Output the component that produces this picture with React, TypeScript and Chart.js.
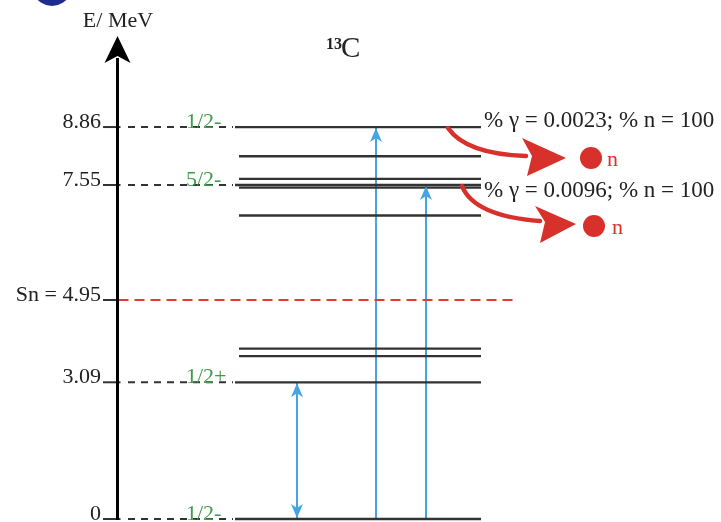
import React, { useEffect, useRef } from "react";
import { Chart, registerables } from "chart.js";

Chart.register(...registerables);

// ---- data ----
const levelEnergies = [0, 3.09, 3.68, 3.85, 6.86, 7.49, 7.55, 7.69, 8.2, 8.86];
const labeledEnergies = [0, 3.09, 7.55, 8.86];
const tickLabels = ["0", "3.09", "7.55", "8.86"];
const spinLabels = ["1/2-", "1/2+", "5/2-", "1/2-"];
const separationEnergy = 4.95;
const separationLabel = "Sn = 4.95";
const transitionFrom = [0, 0, 0];
const transitionTo = [3.09, 8.86, 7.55];
const transitionBoth = [true, false, false];
const decayLevels = [8.86, 7.55];
const decayTexts = ["% γ = 0.0023; % n = 100", "% γ = 0.0096; % n = 100"];
const axisTitle = "E/ MeV";
const nucleusMass = "13";
const nucleusSymbol = "C";
const neutronLabel = "n";

// ---- layout / style ----
const W = 721;
const H = 522;
const PX_PER_MEV = 44.24;
const ZERO_PX = 519;
const AXIS_X = 117.5;
const LEVEL_END = 481;
const LEVEL_START_LABELED = 235;
const LEVEL_START = 239;
const DASH_START = 128;
const TICK_START = 103;
const RED_DASH_END = 515;
const TRANS_X = [297, 376, 426];
const SERIF = '"Liberation Serif", "DejaVu Serif", serif';
const LEVEL_COLOR = "#333333";
const BLUE = "#45a4e4";
const RED = "#d8302b";
const GREEN = "#3f9b4a";
const DECAY_LAYOUT = [
  { sx: 448, p1: [18, 26], p2: [78, 28], tip: [118, 30], up: [74, 10], low: [79, 48], notch: [84, 28], circ: [143, 30], n: [159, 32] },
  { sx: 462, p1: [12, 30], p2: [78, 35], tip: [114, 38], up: [73, 20], low: [78, 57], notch: [83, 36], circ: [132, 40], n: [150, 42] },
];

function seg(x1: number, x2: number, y: number) {
  return [{ x: x1, y }, { x: x2, y }];
}

export default function App() {
  const ref = useRef<HTMLCanvasElement | null>(null);
  useEffect(() => {
    if (!ref.current) return;
    const datasets: any[] = [];
    // levels
    levelEnergies.forEach((e) => {
      const labeled = labeledEnergies.includes(e);
      datasets.push({
        data: seg(labeled ? LEVEL_START_LABELED : LEVEL_START, LEVEL_END, e),
        borderColor: LEVEL_COLOR,
        borderWidth: 2.3,
      });
    });
    // dashed connectors
    labeledEnergies.forEach((e) => {
      datasets.push({ data: seg(TICK_START, AXIS_X + 3, e), borderColor: "#333", borderWidth: 2 });
      datasets.push({
        data: seg(DASH_START, LEVEL_START_LABELED - 2, e),
        borderColor: "#333",
        borderWidth: 2,
        borderDash: [7, 6],
      });
    });
    // separation energy
    datasets.push({ data: seg(TICK_START, AXIS_X, separationEnergy), borderColor: "#333", borderWidth: 2 });
    datasets.push({
      data: seg(AXIS_X + 1, RED_DASH_END, separationEnergy),
      borderColor: "#e23b36",
      borderWidth: 2,
      borderDash: [10, 6],
    });
    // transitions
    transitionFrom.forEach((f, i) => {
      datasets.push({
        data: [{ x: TRANS_X[i], y: f }, { x: TRANS_X[i], y: transitionTo[i] }],
        borderColor: BLUE,
        borderWidth: 2,
      });
    });
    datasets.forEach((d) => {
      d.showLine = true;
      d.pointRadius = 0;
      d.fill = false;
    });

    const overlay = {
      id: "overlay",
      afterDatasetsDraw(chart: any) {
        const ctx = chart.ctx as CanvasRenderingContext2D;
        const ys = chart.scales.y;
        const Y = (e: number) => ys.getPixelForValue(e);
        ctx.save();
        // navy blob at top-left
        ctx.fillStyle = "#1e2c8e";
        ctx.beginPath();
        ctx.ellipse(52, -40, 29, 46, 0, 0, Math.PI * 2);
        ctx.fill();
        // vertical axis
        ctx.strokeStyle = "#000";
        ctx.lineWidth = 3;
        ctx.beginPath();
        ctx.moveTo(AXIS_X, Y(0) + 1);
        ctx.lineTo(AXIS_X, 58);
        ctx.stroke();
        ctx.fillStyle = "#000";
        ctx.beginPath();
        ctx.moveTo(AXIS_X, 36);
        ctx.lineTo(AXIS_X + 13, 63);
        ctx.lineTo(AXIS_X, 56);
        ctx.lineTo(AXIS_X - 13, 63);
        ctx.closePath();
        ctx.fill();
        // axis title
        ctx.fillStyle = "#222";
        ctx.font = `22px ${SERIF}`;
        ctx.textAlign = "center";
        ctx.textBaseline = "alphabetic";
        ctx.fillText(axisTitle, 118, 27);
        // nucleus title
        ctx.font = `bold 16px ${SERIF}`;
        ctx.textAlign = "right";
        ctx.fillText(nucleusMass, 342, 49);
        ctx.font = `29px ${SERIF}`;
        ctx.textAlign = "left";
        ctx.fillText(nucleusSymbol, 341, 57);
        // tick labels
        ctx.font = `22px ${SERIF}`;
        ctx.textAlign = "right";
        ctx.fillStyle = "#222";
        labeledEnergies.forEach((e, i) => ctx.fillText(tickLabels[i], 101, Y(e) + 1));
        ctx.fillText(separationLabel, 101, Y(separationEnergy) + 1);
        // spin labels
        ctx.fillStyle = GREEN;
        ctx.textAlign = "left";
        labeledEnergies.forEach((e, i) => ctx.fillText(spinLabels[i], 186, Y(e) + 1));
        // arrowheads of transitions
        ctx.fillStyle = BLUE;
        const head = (x: number, tipY: number, dir: number) => {
          ctx.beginPath();
          ctx.moveTo(x, tipY);
          ctx.lineTo(x + 6, tipY + dir * 14);
          ctx.lineTo(x, tipY + dir * 10);
          ctx.lineTo(x - 6, tipY + dir * 14);
          ctx.closePath();
          ctx.fill();
        };
        transitionFrom.forEach((f, i) => {
          head(TRANS_X[i], Y(transitionTo[i]) + 1, 1);
          if (transitionBoth[i]) head(TRANS_X[i], Y(f) - 1, -1);
        });
        // decays
        decayLevels.forEach((e, i) => {
          const L = DECAY_LAYOUT[i];
          const ly = Y(e) + 1;
          const sx = L.sx;
          ctx.strokeStyle = RED;
          ctx.fillStyle = RED;
          ctx.lineWidth = 4.5;
          ctx.lineCap = "round";
          ctx.beginPath();
          ctx.moveTo(sx, ly);
          ctx.quadraticCurveTo(sx + L.p1[0], ly + L.p1[1], sx + L.p2[0], ly + L.p2[1]);
          ctx.stroke();
          ctx.beginPath();
          ctx.moveTo(sx + L.tip[0], ly + L.tip[1]);
          ctx.lineTo(sx + L.up[0], ly + L.up[1]);
          ctx.lineTo(sx + L.notch[0], ly + L.notch[1]);
          ctx.lineTo(sx + L.low[0], ly + L.low[1]);
          ctx.closePath();
          ctx.fill();
          ctx.beginPath();
          ctx.arc(sx + L.circ[0], ly + L.circ[1], 11, 0, Math.PI * 2);
          ctx.fill();
          ctx.font = `22px ${SERIF}`;
          ctx.textAlign = "left";
          ctx.fillText(neutronLabel, sx + L.n[0], ly + L.n[1] + 6);
          // decay text
          ctx.fillStyle = "#222";
          ctx.font = `23px ${SERIF}`;
          ctx.fillText(decayTexts[i], 484, ly - (i === 0 ? 1 : -11));
        });
        ctx.restore();
      },
    };

    const chart = new Chart(ref.current, {
      type: "scatter",
      data: { datasets },
      options: {
        animation: false,
        responsive: false,
        maintainAspectRatio: false,
        layout: { padding: 0 },
        plugins: { legend: { display: false }, tooltip: { enabled: false } },
        scales: {
          x: { type: "linear", min: 0, max: W, display: false },
          y: {
            type: "linear",
            min: -(H - ZERO_PX) / PX_PER_MEV,
            max: ZERO_PX / PX_PER_MEV,
            display: false,
          },
        },
      },
      plugins: [overlay],
    });
    return () => chart.destroy();
  }, []);
  return (
    <div style={{ position: "fixed", left: 0, top: 0, width: W, height: H, background: "#fff" }}>
      <canvas ref={ref} width={W} height={H} style={{ width: W, height: H, display: "block" }} />
    </div>
  );
}
